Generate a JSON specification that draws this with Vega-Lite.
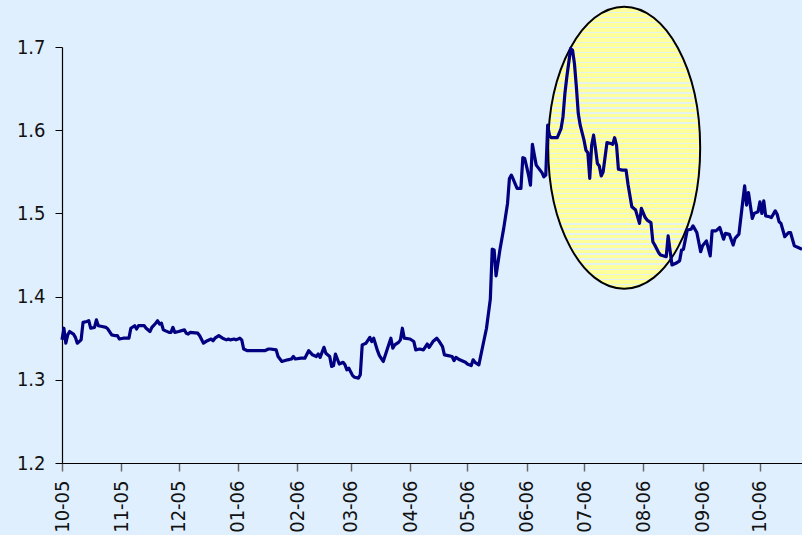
{
  "$schema": "https://vega.github.io/schema/vega-lite/v6.json",
  "width": 740,
  "height": 416,
  "autosize": {"type": "none"},
  "padding": {"left": 62, "top": 47, "right": 0, "bottom": 72},
  "background": "#dfeffe",
  "config": {
    "view": {"stroke": null},
    "font": "DejaVu Sans Condensed, Liberation Sans, sans-serif",
    "axis": {
      "grid": false,
      "labelFont": "DejaVu Sans Condensed, Liberation Sans, sans-serif",
      "labelFontSize": 20,
      "labelColor": "#111111",
      "domainColor": "#000000",
      "domainWidth": 1.2,
      "title": null
    }
  },
  "datasets": {
    "rate": [
      {"date": "2005-10-01", "value": 1.348},
      {"date": "2005-10-02", "value": 1.362},
      {"date": "2005-10-03", "value": 1.344},
      {"date": "2005-10-04", "value": 1.354},
      {"date": "2005-10-05", "value": 1.358},
      {"date": "2005-10-07", "value": 1.355},
      {"date": "2005-10-08", "value": 1.351},
      {"date": "2005-10-09", "value": 1.344},
      {"date": "2005-10-11", "value": 1.348},
      {"date": "2005-10-12", "value": 1.369},
      {"date": "2005-10-14", "value": 1.370},
      {"date": "2005-10-15", "value": 1.371},
      {"date": "2005-10-16", "value": 1.362},
      {"date": "2005-10-18", "value": 1.363},
      {"date": "2005-10-19", "value": 1.372},
      {"date": "2005-10-20", "value": 1.365},
      {"date": "2005-10-22", "value": 1.364},
      {"date": "2005-10-24", "value": 1.363},
      {"date": "2005-10-25", "value": 1.361},
      {"date": "2005-10-27", "value": 1.354},
      {"date": "2005-10-29", "value": 1.353},
      {"date": "2005-10-30", "value": 1.353},
      {"date": "2005-10-31", "value": 1.349},
      {"date": "2005-11-02", "value": 1.350},
      {"date": "2005-11-05", "value": 1.350},
      {"date": "2005-11-06", "value": 1.362},
      {"date": "2005-11-08", "value": 1.365},
      {"date": "2005-11-09", "value": 1.361},
      {"date": "2005-11-10", "value": 1.365},
      {"date": "2005-11-13", "value": 1.365},
      {"date": "2005-11-14", "value": 1.362},
      {"date": "2005-11-16", "value": 1.358},
      {"date": "2005-11-17", "value": 1.363},
      {"date": "2005-11-19", "value": 1.368},
      {"date": "2005-11-20", "value": 1.371},
      {"date": "2005-11-21", "value": 1.367},
      {"date": "2005-11-22", "value": 1.368},
      {"date": "2005-11-23", "value": 1.360},
      {"date": "2005-11-26", "value": 1.357},
      {"date": "2005-11-27", "value": 1.357},
      {"date": "2005-11-28", "value": 1.363},
      {"date": "2005-11-29", "value": 1.357},
      {"date": "2005-12-01", "value": 1.358},
      {"date": "2005-12-04", "value": 1.360},
      {"date": "2005-12-05", "value": 1.356},
      {"date": "2005-12-06", "value": 1.355},
      {"date": "2005-12-07", "value": 1.357},
      {"date": "2005-12-11", "value": 1.356},
      {"date": "2005-12-12", "value": 1.353},
      {"date": "2005-12-14", "value": 1.344},
      {"date": "2005-12-16", "value": 1.347},
      {"date": "2005-12-18", "value": 1.349},
      {"date": "2005-12-19", "value": 1.347},
      {"date": "2005-12-20", "value": 1.350},
      {"date": "2005-12-22", "value": 1.353},
      {"date": "2005-12-24", "value": 1.350},
      {"date": "2005-12-26", "value": 1.348},
      {"date": "2005-12-27", "value": 1.349},
      {"date": "2005-12-28", "value": 1.348},
      {"date": "2005-12-30", "value": 1.349},
      {"date": "2005-12-31", "value": 1.348},
      {"date": "2006-01-02", "value": 1.350},
      {"date": "2006-01-03", "value": 1.348},
      {"date": "2006-01-04", "value": 1.337},
      {"date": "2006-01-06", "value": 1.335},
      {"date": "2006-01-15", "value": 1.335},
      {"date": "2006-01-17", "value": 1.337},
      {"date": "2006-01-18", "value": 1.337},
      {"date": "2006-01-21", "value": 1.336},
      {"date": "2006-01-22", "value": 1.328},
      {"date": "2006-01-24", "value": 1.322},
      {"date": "2006-01-27", "value": 1.324},
      {"date": "2006-01-29", "value": 1.325},
      {"date": "2006-01-30", "value": 1.328},
      {"date": "2006-01-31", "value": 1.325},
      {"date": "2006-02-03", "value": 1.326},
      {"date": "2006-02-05", "value": 1.326},
      {"date": "2006-02-07", "value": 1.335},
      {"date": "2006-02-09", "value": 1.330},
      {"date": "2006-02-11", "value": 1.328},
      {"date": "2006-02-12", "value": 1.331},
      {"date": "2006-02-13", "value": 1.327},
      {"date": "2006-02-15", "value": 1.339},
      {"date": "2006-02-16", "value": 1.332},
      {"date": "2006-02-18", "value": 1.328},
      {"date": "2006-02-19", "value": 1.316},
      {"date": "2006-02-20", "value": 1.317},
      {"date": "2006-02-21", "value": 1.331},
      {"date": "2006-02-23", "value": 1.319},
      {"date": "2006-02-25", "value": 1.321},
      {"date": "2006-02-26", "value": 1.318},
      {"date": "2006-02-27", "value": 1.312},
      {"date": "2006-02-28", "value": 1.314},
      {"date": "2006-03-02", "value": 1.305},
      {"date": "2006-03-03", "value": 1.303},
      {"date": "2006-03-05", "value": 1.302},
      {"date": "2006-03-06", "value": 1.306},
      {"date": "2006-03-07", "value": 1.342},
      {"date": "2006-03-09", "value": 1.344},
      {"date": "2006-03-11", "value": 1.351},
      {"date": "2006-03-12", "value": 1.346},
      {"date": "2006-03-13", "value": 1.350},
      {"date": "2006-03-15", "value": 1.335},
      {"date": "2006-03-16", "value": 1.329},
      {"date": "2006-03-18", "value": 1.322},
      {"date": "2006-03-20", "value": 1.336},
      {"date": "2006-03-22", "value": 1.350},
      {"date": "2006-03-23", "value": 1.338},
      {"date": "2006-03-24", "value": 1.342},
      {"date": "2006-03-26", "value": 1.345},
      {"date": "2006-03-27", "value": 1.348},
      {"date": "2006-03-28", "value": 1.362},
      {"date": "2006-03-29", "value": 1.350},
      {"date": "2006-04-01", "value": 1.349},
      {"date": "2006-04-03", "value": 1.346},
      {"date": "2006-04-04", "value": 1.336},
      {"date": "2006-04-06", "value": 1.337},
      {"date": "2006-04-08", "value": 1.336},
      {"date": "2006-04-10", "value": 1.343},
      {"date": "2006-04-11", "value": 1.339},
      {"date": "2006-04-13", "value": 1.346},
      {"date": "2006-04-15", "value": 1.350},
      {"date": "2006-04-16", "value": 1.347},
      {"date": "2006-04-18", "value": 1.340},
      {"date": "2006-04-19", "value": 1.330},
      {"date": "2006-04-21", "value": 1.329},
      {"date": "2006-04-23", "value": 1.328},
      {"date": "2006-04-24", "value": 1.323},
      {"date": "2006-04-25", "value": 1.327},
      {"date": "2006-04-27", "value": 1.324},
      {"date": "2006-04-30", "value": 1.321},
      {"date": "2006-05-01", "value": 1.319},
      {"date": "2006-05-03", "value": 1.317},
      {"date": "2006-05-04", "value": 1.324},
      {"date": "2006-05-05", "value": 1.321},
      {"date": "2006-05-07", "value": 1.318},
      {"date": "2006-05-09", "value": 1.340},
      {"date": "2006-05-11", "value": 1.362},
      {"date": "2006-05-13", "value": 1.397},
      {"date": "2006-05-14", "value": 1.457},
      {"date": "2006-05-15", "value": 1.456},
      {"date": "2006-05-16", "value": 1.425},
      {"date": "2006-05-18", "value": 1.456},
      {"date": "2006-05-20", "value": 1.482},
      {"date": "2006-05-22", "value": 1.512},
      {"date": "2006-05-23", "value": 1.542},
      {"date": "2006-05-24", "value": 1.546},
      {"date": "2006-05-25", "value": 1.541},
      {"date": "2006-05-27", "value": 1.530},
      {"date": "2006-05-29", "value": 1.530},
      {"date": "2006-05-30", "value": 1.567},
      {"date": "2006-05-31", "value": 1.566},
      {"date": "2006-06-02", "value": 1.546},
      {"date": "2006-06-03", "value": 1.534},
      {"date": "2006-06-04", "value": 1.583},
      {"date": "2006-06-06", "value": 1.558},
      {"date": "2006-06-07", "value": 1.555},
      {"date": "2006-06-09", "value": 1.549},
      {"date": "2006-06-10", "value": 1.544},
      {"date": "2006-06-11", "value": 1.546},
      {"date": "2006-06-12", "value": 1.606},
      {"date": "2006-06-13", "value": 1.593},
      {"date": "2006-06-14", "value": 1.591},
      {"date": "2006-06-17", "value": 1.591},
      {"date": "2006-06-19", "value": 1.602},
      {"date": "2006-06-20", "value": 1.616},
      {"date": "2006-06-21", "value": 1.644},
      {"date": "2006-06-22", "value": 1.664},
      {"date": "2006-06-24", "value": 1.698},
      {"date": "2006-06-25", "value": 1.696},
      {"date": "2006-06-26", "value": 1.680},
      {"date": "2006-06-27", "value": 1.652},
      {"date": "2006-06-28", "value": 1.620},
      {"date": "2006-06-29", "value": 1.606},
      {"date": "2006-07-01", "value": 1.588},
      {"date": "2006-07-02", "value": 1.576},
      {"date": "2006-07-03", "value": 1.573},
      {"date": "2006-07-04", "value": 1.542},
      {"date": "2006-07-05", "value": 1.582},
      {"date": "2006-07-06", "value": 1.594},
      {"date": "2006-07-07", "value": 1.578},
      {"date": "2006-07-08", "value": 1.560},
      {"date": "2006-07-09", "value": 1.557},
      {"date": "2006-07-10", "value": 1.545},
      {"date": "2006-07-11", "value": 1.550},
      {"date": "2006-07-13", "value": 1.585},
      {"date": "2006-07-15", "value": 1.584},
      {"date": "2006-07-16", "value": 1.583},
      {"date": "2006-07-17", "value": 1.591},
      {"date": "2006-07-18", "value": 1.582},
      {"date": "2006-07-19", "value": 1.553},
      {"date": "2006-07-21", "value": 1.552},
      {"date": "2006-07-23", "value": 1.552},
      {"date": "2006-07-24", "value": 1.535},
      {"date": "2006-07-26", "value": 1.508},
      {"date": "2006-07-28", "value": 1.504},
      {"date": "2006-07-30", "value": 1.488},
      {"date": "2006-07-31", "value": 1.506},
      {"date": "2006-08-02", "value": 1.495},
      {"date": "2006-08-03", "value": 1.492},
      {"date": "2006-08-05", "value": 1.489},
      {"date": "2006-08-06", "value": 1.466},
      {"date": "2006-08-07", "value": 1.462},
      {"date": "2006-08-09", "value": 1.453},
      {"date": "2006-08-10", "value": 1.450},
      {"date": "2006-08-13", "value": 1.448},
      {"date": "2006-08-14", "value": 1.473},
      {"date": "2006-08-16", "value": 1.438},
      {"date": "2006-08-18", "value": 1.440},
      {"date": "2006-08-20", "value": 1.443},
      {"date": "2006-08-21", "value": 1.456},
      {"date": "2006-08-22", "value": 1.457},
      {"date": "2006-08-24", "value": 1.480},
      {"date": "2006-08-26", "value": 1.481},
      {"date": "2006-08-27", "value": 1.485},
      {"date": "2006-08-29", "value": 1.477},
      {"date": "2006-08-31", "value": 1.454},
      {"date": "2006-09-01", "value": 1.461},
      {"date": "2006-09-03", "value": 1.467},
      {"date": "2006-09-05", "value": 1.449},
      {"date": "2006-09-06", "value": 1.479},
      {"date": "2006-09-08", "value": 1.479},
      {"date": "2006-09-10", "value": 1.483},
      {"date": "2006-09-12", "value": 1.469},
      {"date": "2006-09-13", "value": 1.476},
      {"date": "2006-09-15", "value": 1.475},
      {"date": "2006-09-17", "value": 1.462},
      {"date": "2006-09-18", "value": 1.470},
      {"date": "2006-09-20", "value": 1.475},
      {"date": "2006-09-22", "value": 1.514},
      {"date": "2006-09-23", "value": 1.533},
      {"date": "2006-09-24", "value": 1.510},
      {"date": "2006-09-25", "value": 1.525},
      {"date": "2006-09-27", "value": 1.494},
      {"date": "2006-09-28", "value": 1.500},
      {"date": "2006-09-30", "value": 1.502},
      {"date": "2006-10-01", "value": 1.514},
      {"date": "2006-10-02", "value": 1.500},
      {"date": "2006-10-03", "value": 1.515},
      {"date": "2006-10-04", "value": 1.497},
      {"date": "2006-10-06", "value": 1.496},
      {"date": "2006-10-07", "value": 1.495},
      {"date": "2006-10-09", "value": 1.503},
      {"date": "2006-10-10", "value": 1.499},
      {"date": "2006-10-11", "value": 1.490},
      {"date": "2006-10-12", "value": 1.488},
      {"date": "2006-10-14", "value": 1.472},
      {"date": "2006-10-16", "value": 1.477},
      {"date": "2006-10-17", "value": 1.477},
      {"date": "2006-10-19", "value": 1.461},
      {"date": "2006-10-21", "value": 1.459},
      {"date": "2006-10-23", "value": 1.457}
    ],
    "highlight": [
      {"date": "2006-07-22", "value": 1.579}
    ]
  },
  "layer": [
    {
      "data": {"name": "highlight"},
      "mark": {
        "type": "point",
        "filled": true,
        "shape": "M0,-1A0.539,1,0,1,1,0,1A0.539,1,0,1,1,0,-1Z",
        "size": 79524,
        "stroke": "#000000",
        "strokeWidth": 2,
        "opacity": 1,
        "fillOpacity": 1,
        "fill": {
          "gradient": "linear",
          "x1": 0, "y1": 0, "x2": 0, "y2": 1,
          "stops": [
            {"offset": 0, "color": "#e4f3f0"}, {"offset": 0.0046, "color": "#e4f3f0"}, {"offset": 0.0046, "color": "#ffff99"}, {"offset": 0.0179, "color": "#ffff99"},
            {"offset": 0.0179, "color": "#e4f3f0"}, {"offset": 0.0225, "color": "#e4f3f0"}, {"offset": 0.0225, "color": "#ffff99"}, {"offset": 0.0357, "color": "#ffff99"},
            {"offset": 0.0357, "color": "#e4f3f0"}, {"offset": 0.0403, "color": "#e4f3f0"}, {"offset": 0.0403, "color": "#ffff99"}, {"offset": 0.0536, "color": "#ffff99"},
            {"offset": 0.0536, "color": "#e4f3f0"}, {"offset": 0.0582, "color": "#e4f3f0"}, {"offset": 0.0582, "color": "#ffff99"}, {"offset": 0.0714, "color": "#ffff99"},
            {"offset": 0.0714, "color": "#e4f3f0"}, {"offset": 0.0760, "color": "#e4f3f0"}, {"offset": 0.0760, "color": "#ffff99"}, {"offset": 0.0893, "color": "#ffff99"},
            {"offset": 0.0893, "color": "#e4f3f0"}, {"offset": 0.0939, "color": "#e4f3f0"}, {"offset": 0.0939, "color": "#ffff99"}, {"offset": 0.1071, "color": "#ffff99"},
            {"offset": 0.1071, "color": "#e4f3f0"}, {"offset": 0.1117, "color": "#e4f3f0"}, {"offset": 0.1117, "color": "#ffff99"}, {"offset": 0.125, "color": "#ffff99"},
            {"offset": 0.125, "color": "#e4f3f0"}, {"offset": 0.1296, "color": "#e4f3f0"}, {"offset": 0.1296, "color": "#ffff99"}, {"offset": 0.1429, "color": "#ffff99"},
            {"offset": 0.1429, "color": "#e4f3f0"}, {"offset": 0.1475, "color": "#e4f3f0"}, {"offset": 0.1475, "color": "#ffff99"}, {"offset": 0.1607, "color": "#ffff99"},
            {"offset": 0.1607, "color": "#e4f3f0"}, {"offset": 0.1653, "color": "#e4f3f0"}, {"offset": 0.1653, "color": "#ffff99"}, {"offset": 0.1786, "color": "#ffff99"},
            {"offset": 0.1786, "color": "#e4f3f0"}, {"offset": 0.1832, "color": "#e4f3f0"}, {"offset": 0.1832, "color": "#ffff99"}, {"offset": 0.1964, "color": "#ffff99"},
            {"offset": 0.1964, "color": "#e4f3f0"}, {"offset": 0.2010, "color": "#e4f3f0"}, {"offset": 0.2010, "color": "#ffff99"}, {"offset": 0.2143, "color": "#ffff99"},
            {"offset": 0.2143, "color": "#e4f3f0"}, {"offset": 0.2189, "color": "#e4f3f0"}, {"offset": 0.2189, "color": "#ffff99"}, {"offset": 0.2321, "color": "#ffff99"},
            {"offset": 0.2321, "color": "#e4f3f0"}, {"offset": 0.2367, "color": "#e4f3f0"}, {"offset": 0.2367, "color": "#ffff99"}, {"offset": 0.25, "color": "#ffff99"},
            {"offset": 0.25, "color": "#e4f3f0"}, {"offset": 0.2546, "color": "#e4f3f0"}, {"offset": 0.2546, "color": "#ffff99"}, {"offset": 0.2679, "color": "#ffff99"},
            {"offset": 0.2679, "color": "#e4f3f0"}, {"offset": 0.2725, "color": "#e4f3f0"}, {"offset": 0.2725, "color": "#ffff99"}, {"offset": 0.2857, "color": "#ffff99"},
            {"offset": 0.2857, "color": "#e4f3f0"}, {"offset": 0.2903, "color": "#e4f3f0"}, {"offset": 0.2903, "color": "#ffff99"}, {"offset": 0.3036, "color": "#ffff99"},
            {"offset": 0.3036, "color": "#e4f3f0"}, {"offset": 0.3082, "color": "#e4f3f0"}, {"offset": 0.3082, "color": "#ffff99"}, {"offset": 0.3214, "color": "#ffff99"},
            {"offset": 0.3214, "color": "#e4f3f0"}, {"offset": 0.3260, "color": "#e4f3f0"}, {"offset": 0.3260, "color": "#ffff99"}, {"offset": 0.3393, "color": "#ffff99"},
            {"offset": 0.3393, "color": "#e4f3f0"}, {"offset": 0.3439, "color": "#e4f3f0"}, {"offset": 0.3439, "color": "#ffff99"}, {"offset": 0.3571, "color": "#ffff99"},
            {"offset": 0.3571, "color": "#e4f3f0"}, {"offset": 0.3617, "color": "#e4f3f0"}, {"offset": 0.3617, "color": "#ffff99"}, {"offset": 0.375, "color": "#ffff99"},
            {"offset": 0.375, "color": "#e4f3f0"}, {"offset": 0.3796, "color": "#e4f3f0"}, {"offset": 0.3796, "color": "#ffff99"}, {"offset": 0.3929, "color": "#ffff99"},
            {"offset": 0.3929, "color": "#e4f3f0"}, {"offset": 0.3975, "color": "#e4f3f0"}, {"offset": 0.3975, "color": "#ffff99"}, {"offset": 0.4107, "color": "#ffff99"},
            {"offset": 0.4107, "color": "#e4f3f0"}, {"offset": 0.4153, "color": "#e4f3f0"}, {"offset": 0.4153, "color": "#ffff99"}, {"offset": 0.4286, "color": "#ffff99"},
            {"offset": 0.4286, "color": "#e4f3f0"}, {"offset": 0.4332, "color": "#e4f3f0"}, {"offset": 0.4332, "color": "#ffff99"}, {"offset": 0.4464, "color": "#ffff99"},
            {"offset": 0.4464, "color": "#e4f3f0"}, {"offset": 0.4510, "color": "#e4f3f0"}, {"offset": 0.4510, "color": "#ffff99"}, {"offset": 0.4643, "color": "#ffff99"},
            {"offset": 0.4643, "color": "#e4f3f0"}, {"offset": 0.4689, "color": "#e4f3f0"}, {"offset": 0.4689, "color": "#ffff99"}, {"offset": 0.4821, "color": "#ffff99"},
            {"offset": 0.4821, "color": "#e4f3f0"}, {"offset": 0.4867, "color": "#e4f3f0"}, {"offset": 0.4867, "color": "#ffff99"}, {"offset": 0.5, "color": "#ffff99"},
            {"offset": 0.5, "color": "#e4f3f0"}, {"offset": 0.5046, "color": "#e4f3f0"}, {"offset": 0.5046, "color": "#ffff99"}, {"offset": 0.5179, "color": "#ffff99"},
            {"offset": 0.5179, "color": "#e4f3f0"}, {"offset": 0.5225, "color": "#e4f3f0"}, {"offset": 0.5225, "color": "#ffff99"}, {"offset": 0.5357, "color": "#ffff99"},
            {"offset": 0.5357, "color": "#e4f3f0"}, {"offset": 0.5403, "color": "#e4f3f0"}, {"offset": 0.5403, "color": "#ffff99"}, {"offset": 0.5536, "color": "#ffff99"},
            {"offset": 0.5536, "color": "#e4f3f0"}, {"offset": 0.5582, "color": "#e4f3f0"}, {"offset": 0.5582, "color": "#ffff99"}, {"offset": 0.5714, "color": "#ffff99"},
            {"offset": 0.5714, "color": "#e4f3f0"}, {"offset": 0.5760, "color": "#e4f3f0"}, {"offset": 0.5760, "color": "#ffff99"}, {"offset": 0.5893, "color": "#ffff99"},
            {"offset": 0.5893, "color": "#e4f3f0"}, {"offset": 0.5939, "color": "#e4f3f0"}, {"offset": 0.5939, "color": "#ffff99"}, {"offset": 0.6071, "color": "#ffff99"},
            {"offset": 0.6071, "color": "#e4f3f0"}, {"offset": 0.6117, "color": "#e4f3f0"}, {"offset": 0.6117, "color": "#ffff99"}, {"offset": 0.625, "color": "#ffff99"},
            {"offset": 0.625, "color": "#e4f3f0"}, {"offset": 0.6296, "color": "#e4f3f0"}, {"offset": 0.6296, "color": "#ffff99"}, {"offset": 0.6429, "color": "#ffff99"},
            {"offset": 0.6429, "color": "#e4f3f0"}, {"offset": 0.6475, "color": "#e4f3f0"}, {"offset": 0.6475, "color": "#ffff99"}, {"offset": 0.6607, "color": "#ffff99"},
            {"offset": 0.6607, "color": "#e4f3f0"}, {"offset": 0.6653, "color": "#e4f3f0"}, {"offset": 0.6653, "color": "#ffff99"}, {"offset": 0.6786, "color": "#ffff99"},
            {"offset": 0.6786, "color": "#e4f3f0"}, {"offset": 0.6832, "color": "#e4f3f0"}, {"offset": 0.6832, "color": "#ffff99"}, {"offset": 0.6964, "color": "#ffff99"},
            {"offset": 0.6964, "color": "#e4f3f0"}, {"offset": 0.7010, "color": "#e4f3f0"}, {"offset": 0.7010, "color": "#ffff99"}, {"offset": 0.7143, "color": "#ffff99"},
            {"offset": 0.7143, "color": "#e4f3f0"}, {"offset": 0.7189, "color": "#e4f3f0"}, {"offset": 0.7189, "color": "#ffff99"}, {"offset": 0.7321, "color": "#ffff99"},
            {"offset": 0.7321, "color": "#e4f3f0"}, {"offset": 0.7367, "color": "#e4f3f0"}, {"offset": 0.7367, "color": "#ffff99"}, {"offset": 0.75, "color": "#ffff99"},
            {"offset": 0.75, "color": "#e4f3f0"}, {"offset": 0.7546, "color": "#e4f3f0"}, {"offset": 0.7546, "color": "#ffff99"}, {"offset": 0.7679, "color": "#ffff99"},
            {"offset": 0.7679, "color": "#e4f3f0"}, {"offset": 0.7725, "color": "#e4f3f0"}, {"offset": 0.7725, "color": "#ffff99"}, {"offset": 0.7857, "color": "#ffff99"},
            {"offset": 0.7857, "color": "#e4f3f0"}, {"offset": 0.7903, "color": "#e4f3f0"}, {"offset": 0.7903, "color": "#ffff99"}, {"offset": 0.8036, "color": "#ffff99"},
            {"offset": 0.8036, "color": "#e4f3f0"}, {"offset": 0.8082, "color": "#e4f3f0"}, {"offset": 0.8082, "color": "#ffff99"}, {"offset": 0.8214, "color": "#ffff99"},
            {"offset": 0.8214, "color": "#e4f3f0"}, {"offset": 0.8260, "color": "#e4f3f0"}, {"offset": 0.8260, "color": "#ffff99"}, {"offset": 0.8393, "color": "#ffff99"},
            {"offset": 0.8393, "color": "#e4f3f0"}, {"offset": 0.8439, "color": "#e4f3f0"}, {"offset": 0.8439, "color": "#ffff99"}, {"offset": 0.8571, "color": "#ffff99"},
            {"offset": 0.8571, "color": "#e4f3f0"}, {"offset": 0.8617, "color": "#e4f3f0"}, {"offset": 0.8617, "color": "#ffff99"}, {"offset": 0.875, "color": "#ffff99"},
            {"offset": 0.875, "color": "#e4f3f0"}, {"offset": 0.8796, "color": "#e4f3f0"}, {"offset": 0.8796, "color": "#ffff99"}, {"offset": 0.8929, "color": "#ffff99"},
            {"offset": 0.8929, "color": "#e4f3f0"}, {"offset": 0.8975, "color": "#e4f3f0"}, {"offset": 0.8975, "color": "#ffff99"}, {"offset": 0.9107, "color": "#ffff99"},
            {"offset": 0.9107, "color": "#e4f3f0"}, {"offset": 0.9153, "color": "#e4f3f0"}, {"offset": 0.9153, "color": "#ffff99"}, {"offset": 0.9286, "color": "#ffff99"},
            {"offset": 0.9286, "color": "#e4f3f0"}, {"offset": 0.9332, "color": "#e4f3f0"}, {"offset": 0.9332, "color": "#ffff99"}, {"offset": 0.9464, "color": "#ffff99"},
            {"offset": 0.9464, "color": "#e4f3f0"}, {"offset": 0.9510, "color": "#e4f3f0"}, {"offset": 0.9510, "color": "#ffff99"}, {"offset": 0.9643, "color": "#ffff99"},
            {"offset": 0.9643, "color": "#e4f3f0"}, {"offset": 0.9689, "color": "#e4f3f0"}, {"offset": 0.9689, "color": "#ffff99"}, {"offset": 0.9821, "color": "#ffff99"},
            {"offset": 0.9821, "color": "#e4f3f0"}, {"offset": 0.9867, "color": "#e4f3f0"}, {"offset": 0.9867, "color": "#ffff99"}, {"offset": 1, "color": "#ffff99"}
          ]
        }
      },
      "encoding": {
        "x": {"field": "date", "type": "temporal"},
        "y": {"field": "value", "type": "quantitative"}
      }
    },
    {
      "data": {"name": "rate"},
      "mark": {"type": "line", "color": "#000080", "strokeWidth": 3.2, "strokeJoin": "round"},
      "encoding": {
        "x": {
          "field": "date",
          "type": "temporal",
          "scale": {"domain": ["2005-10-01", "2006-10-23"], "nice": false},
          "axis": {
            "format": "%m-%y",
            "labelAngle": -90,
            "tickCount": {"interval": "month", "step": 1},
            "tickSize": 8,
            "tickColor": "#666666",
            "tickWidth": 1.5,
            "labelPadding": 9,
            "labelOverlap": false,
            "labelFlush": false
          }
        },
        "y": {
          "field": "value",
          "type": "quantitative",
          "scale": {"domain": [1.2, 1.7], "nice": false, "zero": false},
          "axis": {
            "values": [1.2, 1.3, 1.4, 1.5, 1.6, 1.7],
            "format": ".1f",
            "tickSize": 7,
            "tickColor": "#000000",
            "labelPadding": 10
          }
        }
      }
    }
  ]
}
